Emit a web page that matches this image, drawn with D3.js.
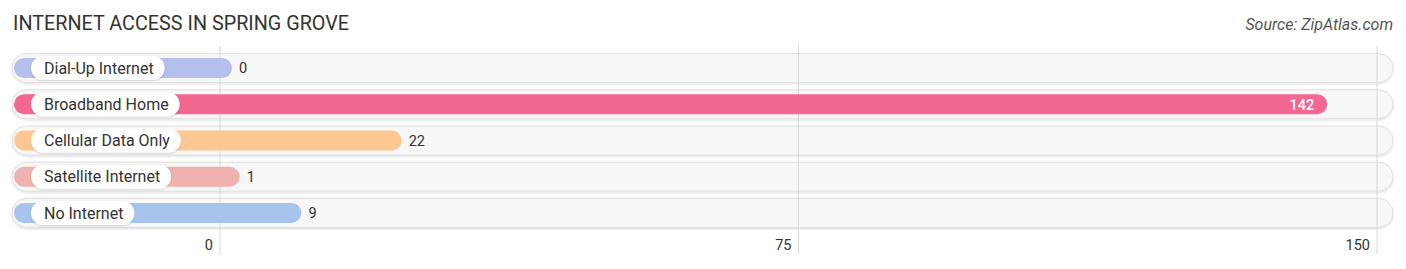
<!DOCTYPE html>
<html>
<head>
<meta charset="utf-8">
<script src="https://cdn.jsdelivr.net/npm/d3@7"></script>
<style>
  body { margin: 0; background: #fff; }
  svg { display: block; font-family: Roboto, "Open Sans", sans-serif; }
</style>
</head>
<body>
<svg id="chart" width="1406" height="269"></svg>
<script>
"use strict"

// Data
const categories = ["Dial-Up Internet", "Broadband Home", "Cellular Data Only", "Satellite Internet", "No Internet"]
const values = [0, 142, 22, 1, 9]
const barColors = ["#b4bfeb", "#f26893", "#fdc793", "#f1b1b1", "#a7c5ec"]
const tickValues = [0, 75, 150]

const svg = d3.select("#chart")

// drop shadow used by rows and label pills
const defs = svg.append("defs")
const shadow = defs.append("filter").attr("id", "shadow")
    .attr("x", "-10%").attr("y", "-30%").attr("width", "120%").attr("height", "160%")
shadow.append("feDropShadow")
    .attr("dx", 0).attr("dy", 1).attr("stdDeviation", 1.2)
    .attr("flood-color", "#000").attr("flood-opacity", 0.15)

// title and source
svg.append("text")
    .attr("x", 13).attr("y", 30)
    .attr("font-size", 19.8).attr("fill", "#333")
    .text("INTERNET ACCESS IN SPRING GROVE")

svg.append("text")
    .attr("x", 1393).attr("y", 30)
    .attr("text-anchor", "end")
    .attr("font-size", 16).attr("font-style", "italic").attr("fill", "#555")
    .text("Source: ZipAtlas.com")

// scales
const x = d3.scaleLinear().domain([0, 150]).range([220, 1377])
const y = d3.scaleBand().domain(categories).range([50, 231]).padding(0)

const rowLeft = 12
const rowRight = 1393
const rowH = 29
const barH = 20
const pillH = 24
const barLeft = 14
const extra = 12   // bars run a little past the value on the scale

const rowData = categories.map((c, i) => ({name: c, value: values[i], color: barColors[i]}))

// row background pills
svg.append("g").selectAll("rect")
    .data(rowData)
    .join("rect")
    .attr("x", rowLeft).attr("y", d => y(d.name) + y.bandwidth() / 2 - rowH / 2)
    .attr("width", rowRight - rowLeft).attr("height", rowH)
    .attr("rx", rowH / 2)
    .attr("fill", "#f7f7f7")
    .attr("stroke", "#e0e0e0").attr("stroke-width", 1)
    .attr("filter", "url(#shadow)")

// gridlines
svg.append("g").selectAll("line")
    .data(tickValues)
    .join("line")
    .attr("x1", d => x(d)).attr("x2", d => x(d))
    .attr("y1", 46).attr("y2", 254)
    .attr("stroke", "#d8d8d8").attr("stroke-width", 1)

const bars = svg.append("g").selectAll("g")
    .data(rowData)
    .join("g")
    .attr("transform", d => `translate(0,${y(d.name) + y.bandwidth() / 2})`)

bars.append("rect")
    .attr("x", barLeft).attr("y", -barH / 2)
    .attr("width", d => x(d.value) + extra - barLeft)
    .attr("height", barH)
    .attr("rx", barH / 2)
    .attr("fill", d => d.color)

// white label pill with category name
bars.each(function(d){
    const g = d3.select(this)
    const t = g.append("text")
        .attr("x", 44).attr("y", 0)
        .attr("dy", "0.36em")
        .attr("font-size", 16).attr("fill", "#333")
        .text(d.name)
    const w = t.node().getComputedTextLength()
    g.insert("rect", "text")
        .attr("x", 31).attr("y", -pillH / 2)
        .attr("width", w + 24).attr("height", pillH)
        .attr("rx", pillH / 2)
        .attr("fill", "#fff")
        .attr("filter", "url(#shadow)")
})

// value labels
bars.append("text")
    .attr("x", d => d.value > 100 ? x(d.value) + extra - 13 : x(d.value) + extra + 7)
    .attr("y", 0).attr("dy", "0.36em")
    .attr("text-anchor", d => d.value > 100 ? "end" : "start")
    .attr("font-size", 14.5)
    .attr("fill", d => d.value > 100 ? "#fff" : "#333")
    .attr("font-weight", d => d.value > 100 ? 500 : 400)
    .text(d => d.value)

// axis tick labels
svg.append("g").selectAll("text")
    .data(tickValues)
    .join("text")
    .attr("x", d => x(d) - 7).attr("y", 250)
    .attr("text-anchor", "end")
    .attr("font-size", 14.5).attr("fill", "#333")
    .text(d => d)
</script>
</body>
</html>
